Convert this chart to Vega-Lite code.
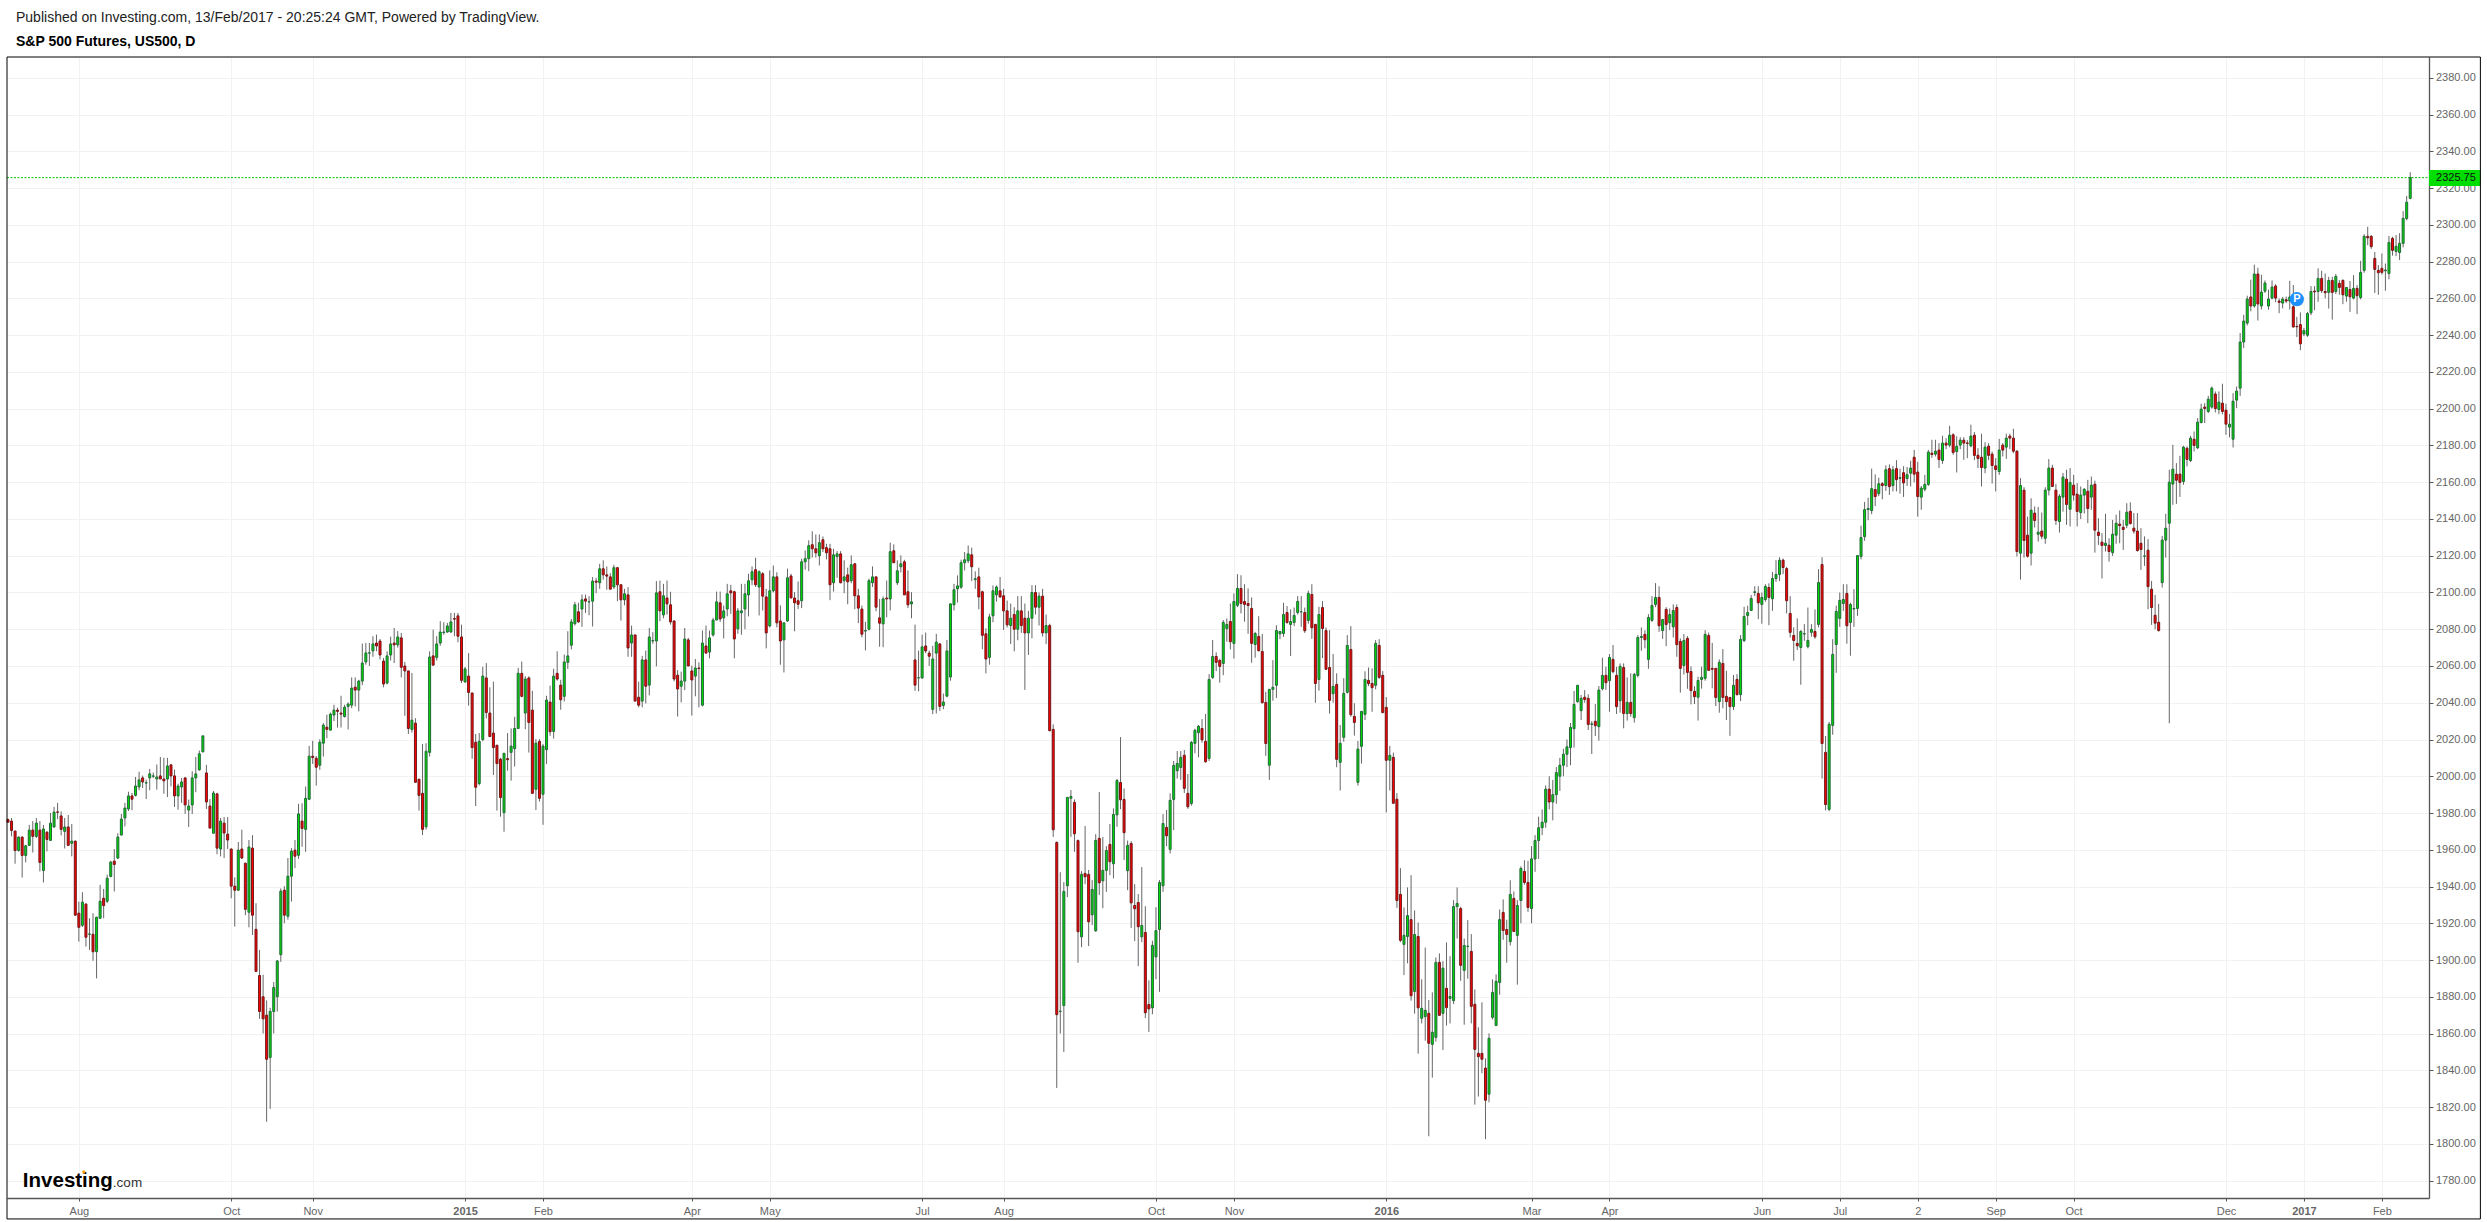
{"$schema":"https://vega.github.io/schema/vega-lite/v6.json","autosize":"none","padding":{"left":7,"top":57,"right":58,"bottom":24},"width":2422,"height":1141,"background":"#ffffff","config":{"view":{"stroke":null},"font":"Liberation Sans"},"title":{"text":"Published on Investing.com, 13/Feb/2017 - 20:25:24 GMT, Powered by TradingView.","subtitle":"S&P 500 Futures, US500, D","anchor":"start","frame":"group","dx":9,"offset":8,"font":"Liberation Sans","fontSize":14,"fontWeight":"normal","color":"#222222","subtitleFont":"Liberation Sans","subtitleFontSize":14,"subtitleFontWeight":"bold","subtitleColor":"#000000","subtitlePadding":10},"datasets":{"candles":[
{"i":0,"o":1976.4,"h":1977,"l":1974.9,"c":1975},{"i":1,"o":1975.6,"h":1977.3,"l":1967.3,"c":1970.5},{"i":2,"o":1970.2,"h":1970.2,"l":1952.4,"c":1959.6},{"i":3,"o":1959.6,"h":1967.3,"l":1959,"c":1966.9},{"i":4,"o":1966.9,"h":1967.3,"l":1944.9,"c":1956.9},{"i":5,"o":1956.9,"h":1962.2,"l":1953.1,"c":1962.2},{"i":6,"o":1962.4,"h":1973.5,"l":1962,"c":1970.7},{"i":7,"o":1970.7,"h":1975.6,"l":1958.5,"c":1967.3},{"i":8,"o":1967.3,"h":1977.3,"l":1966.4,"c":1974.5},{"i":9,"o":1970.7,"h":1975.6,"l":1948.2,"c":1953.1},
{"i":10,"o":1948.7,"h":1973.5,"l":1942.2,"c":1971.3},{"i":11,"o":1969.6,"h":1970,"l":1959.1,"c":1965.6},{"i":12,"o":1965.1,"h":1980,"l":1965,"c":1974.5},{"i":13,"o":1972.4,"h":1983.3,"l":1972,"c":1980.5},{"i":14,"o":1980.6,"h":1985.5,"l":1976.7,"c":1980.4},{"i":15,"o":1978.4,"h":1980.9,"l":1967.8,"c":1971.1},{"i":16,"o":1970,"h":1977.3,"l":1960.7,"c":1972.4},{"i":17,"o":1972.4,"h":1978.9,"l":1962.2,"c":1962.4},{"i":18,"o":1963.5,"h":1974,"l":1956.4,"c":1964.7},{"i":19,"o":1964.7,"h":1965,"l":1924,"c":1924.4},
{"i":20,"o":1925.5,"h":1931.8,"l":1910,"c":1917.8},{"i":21,"o":1918.9,"h":1936.9,"l":1918,"c":1931.5},{"i":22,"o":1930.4,"h":1931,"l":1907.3,"c":1912.4},{"i":23,"o":1914,"h":1922.7,"l":1905.5,"c":1914.2},{"i":24,"o":1914,"h":1925.5,"l":1899.6,"c":1904.5},{"i":25,"o":1904.5,"h":1923.5,"l":1890,"c":1923.3},{"i":26,"o":1922.7,"h":1940.9,"l":1922.5,"c":1932},{"i":27,"o":1933.6,"h":1938.7,"l":1922.7,"c":1929.6},{"i":28,"o":1932,"h":1946.4,"l":1931,"c":1944.5},{"i":29,"o":1945.5,"h":1954,"l":1945,"c":1953.3},
{"i":30,"o":1953.8,"h":1960.4,"l":1937.3,"c":1952},{"i":31,"o":1955.5,"h":1969,"l":1955,"c":1966.9},{"i":32,"o":1968,"h":1979.5,"l":1968,"c":1976.7},{"i":33,"o":1977.3,"h":1985.5,"l":1972.7,"c":1982.7},{"i":34,"o":1982.2,"h":1991.6,"l":1981.1,"c":1989.3},{"i":35,"o":1989.3,"h":1990.9,"l":1981.5,"c":1987.5},{"i":36,"o":1989.6,"h":1999.6,"l":1989,"c":1994.7},{"i":37,"o":1994.2,"h":2002.4,"l":1992.4,"c":1998},{"i":38,"o":1999.1,"h":2000.4,"l":1993.6,"c":1996.9},{"i":39,"o":1996.3,"h":1998.2,"l":1987.6,"c":1996.5},
{"i":40,"o":1999.1,"h":2004,"l":1992.4,"c":2001.3},{"i":41,"o":2000,"h":2002,"l":1999,"c":2000.2},{"i":42,"o":1998.5,"h":2006.4,"l":1992.7,"c":1999.6},{"i":43,"o":2000.2,"h":2010.5,"l":1998.5,"c":1998.5},{"i":44,"o":1998.5,"h":2010,"l":1990.5,"c":1997.5},{"i":45,"o":1998.5,"h":2010,"l":1988.7,"c":2005.6},{"i":46,"o":2006.2,"h":2006.7,"l":1994.5,"c":2000.2},{"i":47,"o":2000.2,"h":2003.6,"l":1983.3,"c":1989.3},{"i":48,"o":1989.3,"h":1996,"l":1981.8,"c":1994.7},{"i":49,"o":1994.2,"h":1999.1,"l":1985.5,"c":1996.9},
{"i":50,"o":1999.1,"h":1999.5,"l":1979.5,"c":1984.4},{"i":51,"o":1981.6,"h":1987.3,"l":1972.4,"c":1983.8},{"i":52,"o":1984.4,"h":2002.7,"l":1979.5,"c":1999.1},{"i":53,"o":1999.1,"h":2010.5,"l":1991.3,"c":2001.3},{"i":54,"o":2003.5,"h":2014,"l":2003,"c":2012.2},{"i":55,"o":2013.3,"h":2022,"l":2013,"c":2022},{"i":56,"o":2001.8,"h":2006.2,"l":1982.2,"c":1986},{"i":57,"o":1983.8,"h":1987.6,"l":1971.8,"c":1971.8},{"i":58,"o":1969,"h":1992,"l":1969,"c":1990.9},{"i":59,"o":1990.4,"h":1991,"l":1957.6,"c":1960.9},
{"i":60,"o":1960.4,"h":1977.3,"l":1956.4,"c":1975.6},{"i":61,"o":1974.5,"h":1977.8,"l":1955.5,"c":1969.1},{"i":62,"o":1968.5,"h":1977.8,"l":1960.4,"c":1965.3},{"i":63,"o":1960.4,"h":1960.7,"l":1933.6,"c":1940.2},{"i":64,"o":1940.2,"h":1945,"l":1918.2,"c":1938},{"i":65,"o":1938,"h":1964.2,"l":1937.5,"c":1959.8},{"i":66,"o":1960.4,"h":1970.9,"l":1955,"c":1955.5},{"i":67,"o":1952.7,"h":1953,"l":1924.4,"c":1927.6},{"i":68,"o":1926,"h":1965.3,"l":1917.8,"c":1961.5},{"i":69,"o":1960.9,"h":1968,"l":1913.6,"c":1924.4},
{"i":70,"o":1916.7,"h":1930.9,"l":1893.8,"c":1893.8},{"i":71,"o":1891.6,"h":1905.5,"l":1868,"c":1872},{"i":72,"o":1880,"h":1892,"l":1860,"c":1868},{"i":73,"o":1870,"h":1878,"l":1812,"c":1846},{"i":74,"o":1847,"h":1874,"l":1819,"c":1872},{"i":75,"o":1872,"h":1888,"l":1860,"c":1885},{"i":76,"o":1880,"h":1900,"l":1872,"c":1899.5},{"i":77,"o":1902.9,"h":1939,"l":1899,"c":1937.5},{"i":78,"o":1938,"h":1940.2,"l":1920,"c":1924.4},{"i":79,"o":1923.8,"h":1955.5,"l":1922,"c":1945.6},
{"i":80,"o":1945.6,"h":1960.9,"l":1931.8,"c":1959.3},{"i":81,"o":1959.8,"h":1965.3,"l":1950,"c":1956.5},{"i":82,"o":1957,"h":1985,"l":1955,"c":1979.5},{"i":83,"o":1975.6,"h":1985.3,"l":1961.6,"c":1971.6},{"i":84,"o":1971.1,"h":1994.4,"l":1958.9,"c":1988},{"i":85,"o":1987.5,"h":2016.5,"l":1987,"c":2010.9},{"i":86,"o":2010.9,"h":2019.3,"l":2006.7,"c":2010.2},{"i":87,"o":2009.8,"h":2011,"l":1994.9,"c":2004.9},{"i":88,"o":2006,"h":2020.2,"l":2003.5,"c":2018.5},{"i":89,"o":2018,"h":2028.9,"l":2010.7,"c":2027.8},
{"i":90,"o":2026.7,"h":2033.5,"l":2020.7,"c":2025.5},{"i":91,"o":2025.1,"h":2034.7,"l":2025,"c":2033.8},{"i":92,"o":2033.3,"h":2038.9,"l":2030,"c":2036},{"i":93,"o":2036,"h":2037.3,"l":2026.5,"c":2035.3},{"i":94,"o":2034.4,"h":2043.8,"l":2026.5,"c":2033.8},{"i":95,"o":2032.5,"h":2038.9,"l":2032,"c":2037.6},{"i":96,"o":2038,"h":2040.2,"l":2025.5,"c":2039.3},{"i":97,"o":2038.7,"h":2053.8,"l":2037,"c":2048},{"i":98,"o":2048.5,"h":2053.8,"l":2038,"c":2046.9},{"i":99,"o":2046.9,"h":2052.5,"l":2035.3,"c":2051.8},
{"i":100,"o":2051.8,"h":2072.2,"l":2049.6,"c":2061.6},{"i":101,"o":2062.2,"h":2072.5,"l":2060.7,"c":2067.1},{"i":102,"o":2067,"h":2072.5,"l":2060,"c":2067.2},{"i":103,"o":2068.2,"h":2076.2,"l":2065,"c":2072},{"i":104,"o":2072.5,"h":2077.1,"l":2068,"c":2070.9},{"i":105,"o":2073.6,"h":2074.7,"l":2063.5,"c":2066},{"i":106,"o":2062.7,"h":2064.4,"l":2048.4,"c":2050.2},{"i":107,"o":2050.7,"h":2068,"l":2050,"c":2065.5},{"i":108,"o":2066,"h":2076,"l":2063,"c":2072},{"i":109,"o":2072.5,"h":2080.7,"l":2061.6,"c":2071.5},
{"i":110,"o":2071.5,"h":2079,"l":2070,"c":2075.8},{"i":111,"o":2075.3,"h":2078,"l":2053.8,"c":2059.3},{"i":112,"o":2060,"h":2062.2,"l":2032.9,"c":2057.3},{"i":113,"o":2057.3,"h":2057.5,"l":2023,"c":2026},{"i":114,"o":2025.5,"h":2056.2,"l":2023.8,"c":2030.5},{"i":115,"o":2028.9,"h":2031.6,"l":1996.7,"c":1996.7},{"i":116,"o":1998.4,"h":1998.4,"l":1981.3,"c":1989.6},{"i":117,"o":1990.7,"h":2017.6,"l":1968,"c":1971.1},{"i":118,"o":1972.5,"h":2018,"l":1971,"c":2013.6},{"i":119,"o":2013,"h":2068,"l":2010.7,"c":2064.9},
{"i":120,"o":2065.5,"h":2079.8,"l":2060,"c":2060.5},{"i":121,"o":2064.7,"h":2076.2,"l":2063,"c":2072},{"i":122,"o":2072.5,"h":2084.4,"l":2071,"c":2078.5},{"i":123,"o":2078.2,"h":2083.8,"l":2077,"c":2078.5},{"i":124,"o":2078.5,"h":2083.5,"l":2078,"c":2081.8},{"i":125,"o":2078.5,"h":2088.9,"l":2078,"c":2084},{"i":126,"o":2085.8,"h":2088.9,"l":2076.2,"c":2085.5},{"i":127,"o":2087.3,"h":2088.9,"l":2072.9,"c":2076.2},{"i":128,"o":2075.8,"h":2082.5,"l":2050.7,"c":2052.2},{"i":129,"o":2051.3,"h":2059.5,"l":2051,"c":2058.4},
{"i":130,"o":2054.5,"h":2067,"l":2038.4,"c":2045.6},{"i":131,"o":2045.3,"h":2045.5,"l":2009.5,"c":2015.6},{"i":132,"o":2018.5,"h":2023,"l":1983.8,"c":1994},{"i":133,"o":1996,"h":2023.5,"l":1995,"c":2019},{"i":134,"o":2020,"h":2059.6,"l":2019,"c":2054.5},{"i":135,"o":2053.5,"h":2061.6,"l":2031.5,"c":2034.7},{"i":136,"o":2034.4,"h":2048.4,"l":2021.6,"c":2021.6},{"i":137,"o":2023.5,"h":2051.5,"l":2000.7,"c":2015.6},{"i":138,"o":2016.9,"h":2017,"l":1981.3,"c":2006.9},{"i":139,"o":2009.3,"h":2010,"l":1978,"c":1988.4},
{"i":140,"o":1980.2,"h":2012.5,"l":1969.8,"c":2012.5},{"i":141,"o":2009.6,"h":2023.5,"l":2003,"c":2009},{"i":142,"o":2013,"h":2026,"l":1997.6,"c":2016.4},{"i":143,"o":2015,"h":2032.4,"l":2005.3,"c":2026},{"i":144,"o":2026,"h":2059,"l":2026,"c":2056},{"i":145,"o":2056,"h":2062.4,"l":2043,"c":2043.5},{"i":146,"o":2034.4,"h":2054.4,"l":2025.6,"c":2052.9},{"i":147,"o":2053.5,"h":2054.4,"l":2012.9,"c":2029.3},{"i":148,"o":2036,"h":2046.5,"l":1990.7,"c":1990.7},{"i":149,"o":1992.9,"h":2020.2,"l":1981.6,"c":2018},
{"i":150,"o":2019,"h":2020.2,"l":1986.2,"c":1988},{"i":151,"o":1990.2,"h":2017.5,"l":1973.6,"c":2016.4},{"i":152,"o":2014.5,"h":2043.8,"l":2006.7,"c":2041.5},{"i":153,"o":2040.4,"h":2049.3,"l":2022,"c":2024.2},{"i":154,"o":2024.4,"h":2058.5,"l":2020.5,"c":2054.5},{"i":155,"o":2056,"h":2068,"l":2052,"c":2052.9},{"i":156,"o":2049.6,"h":2052.5,"l":2036.2,"c":2041.6},{"i":157,"o":2043.5,"h":2066.2,"l":2040.7,"c":2062.2},{"i":158,"o":2062,"h":2078.9,"l":2058.4,"c":2065.5},{"i":159,"o":2071.3,"h":2085.6,"l":2069,"c":2084},
{"i":160,"o":2083,"h":2094.9,"l":2082,"c":2093.3},{"i":161,"o":2089.5,"h":2094.4,"l":2083.5,"c":2084},{"i":162,"o":2091,"h":2098.9,"l":2081.3,"c":2096},{"i":163,"o":2096.5,"h":2098.9,"l":2088.9,"c":2095.3},{"i":164,"o":2094.9,"h":2098,"l":2087.6,"c":2095},{"i":165,"o":2095.3,"h":2108.4,"l":2081.5,"c":2106.2},{"i":166,"o":2106.2,"h":2108,"l":2099.6,"c":2105.6},{"i":167,"o":2105.3,"h":2115.6,"l":2102,"c":2112.9},{"i":168,"o":2112.9,"h":2117.5,"l":2107,"c":2109.6},{"i":169,"o":2109.6,"h":2114.2,"l":2101.5,"c":2108.9},
{"i":170,"o":2108.5,"h":2110.5,"l":2101.8,"c":2101.8},{"i":171,"o":2103,"h":2115.1,"l":2102,"c":2113.5},{"i":172,"o":2113.5,"h":2113.8,"l":2095.3,"c":2104.2},{"i":173,"o":2104.2,"h":2104.5,"l":2084.7,"c":2096},{"i":174,"o":2096,"h":2102,"l":2093,"c":2099.3},{"i":175,"o":2098.7,"h":2102.9,"l":2065,"c":2069.8},{"i":176,"o":2072.5,"h":2082,"l":2065,"c":2076.9},{"i":177,"o":2076.9,"h":2077,"l":2041,"c":2040.9},{"i":178,"o":2043,"h":2051.5,"l":2037.5,"c":2038.7},{"i":179,"o":2040.9,"h":2065.5,"l":2037.5,"c":2063.3},
{"i":180,"o":2063.3,"h":2068.4,"l":2039.6,"c":2049},{"i":181,"o":2049.6,"h":2080.7,"l":2044,"c":2075.8},{"i":182,"o":2073.6,"h":2078.4,"l":2072,"c":2073.8},{"i":183,"o":2073.6,"h":2106.2,"l":2059.8,"c":2099.8},{"i":184,"o":2100.4,"h":2106.5,"l":2084.4,"c":2090},{"i":185,"o":2087.8,"h":2104.7,"l":2086,"c":2098.2},{"i":186,"o":2097,"h":2106.5,"l":2088,"c":2093.8},{"i":187,"o":2093.3,"h":2100.4,"l":2082.5,"c":2084},{"i":188,"o":2084.5,"h":2084.8,"l":2051.6,"c":2052.9},{"i":189,"o":2055,"h":2057.8,"l":2032.5,"c":2047.5},
{"i":190,"o":2049,"h":2056.9,"l":2040.2,"c":2051.8},{"i":191,"o":2051.8,"h":2080.7,"l":2046.9,"c":2074.7},{"i":192,"o":2074.2,"h":2075.3,"l":2060,"c":2060},{"i":193,"o":2057.3,"h":2060.2,"l":2033,"c":2052.4},{"i":194,"o":2054.5,"h":2063.8,"l":2043.5,"c":2058.9},{"i":195,"o":2058.9,"h":2062,"l":2037.5,"c":2058.6},{"i":196,"o":2038.7,"h":2079.3,"l":2038,"c":2072.5},{"i":197,"o":2070.9,"h":2082,"l":2067,"c":2067},{"i":198,"o":2067.6,"h":2079.3,"l":2064.2,"c":2075.3},{"i":199,"o":2076.9,"h":2086.2,"l":2076,"c":2085},
{"i":200,"o":2085,"h":2100.5,"l":2085,"c":2094.9},{"i":201,"o":2094.4,"h":2100.5,"l":2084,"c":2085.6},{"i":202,"o":2086.2,"h":2092.9,"l":2075,"c":2090},{"i":203,"o":2091,"h":2104.7,"l":2087,"c":2099.3},{"i":204,"o":2100.9,"h":2104.2,"l":2088.4,"c":2099.8},{"i":205,"o":2100.4,"h":2101,"l":2064.2,"c":2074.7},{"i":206,"o":2080.2,"h":2091.6,"l":2077.5,"c":2090},{"i":207,"o":2089,"h":2104.7,"l":2077,"c":2090},{"i":208,"o":2091,"h":2104.7,"l":2080,"c":2099.3},{"i":209,"o":2098.7,"h":2110.2,"l":2087,"c":2106.4},
{"i":210,"o":2106.9,"h":2114.2,"l":2104,"c":2111.3},{"i":211,"o":2112.4,"h":2118.9,"l":2103,"c":2104.2},{"i":212,"o":2103,"h":2112,"l":2087.5,"c":2111.3},{"i":213,"o":2110.2,"h":2111.1,"l":2090.2,"c":2098},{"i":214,"o":2097.6,"h":2102,"l":2069.6,"c":2078},{"i":215,"o":2081.8,"h":2112,"l":2081,"c":2100.9},{"i":216,"o":2100.9,"h":2114.7,"l":2100,"c":2108.5},{"i":217,"o":2108.5,"h":2111,"l":2081,"c":2083.5},{"i":218,"o":2084.5,"h":2093,"l":2060.7,"c":2073.6},{"i":219,"o":2074.2,"h":2083.5,"l":2056.5,"c":2083.5},
{"i":220,"o":2084.5,"h":2113,"l":2084,"c":2108},{"i":221,"o":2109,"h":2110.2,"l":2097,"c":2097},{"i":222,"o":2097,"h":2100.2,"l":2078.9,"c":2094.4},{"i":223,"o":2095.5,"h":2106,"l":2091,"c":2093.6},{"i":224,"o":2095.5,"h":2118.4,"l":2091.5,"c":2116.7},{"i":225,"o":2116.7,"h":2122.9,"l":2112.4,"c":2118.4},{"i":226,"o":2118.4,"h":2128.4,"l":2111.6,"c":2125.5},{"i":227,"o":2126,"h":2133.3,"l":2119,"c":2123.8},{"i":228,"o":2123.8,"h":2131.6,"l":2119,"c":2121.6},{"i":229,"o":2120,"h":2131.6,"l":2114.7,"c":2127.1},
{"i":230,"o":2128.7,"h":2130.5,"l":2122,"c":2123.8},{"i":231,"o":2124.4,"h":2126.5,"l":2118,"c":2121.6},{"i":232,"o":2123.8,"h":2126.5,"l":2095.8,"c":2104.2},{"i":233,"o":2105.3,"h":2123.8,"l":2100.5,"c":2120.5},{"i":234,"o":2119.5,"h":2122.5,"l":2108,"c":2121},{"i":235,"o":2121,"h":2122.5,"l":2105,"c":2105.3},{"i":236,"o":2106.4,"h":2117.5,"l":2099.6,"c":2108.5},{"i":237,"o":2109.6,"h":2113.5,"l":2093.6,"c":2105.8},{"i":238,"o":2106.4,"h":2120.2,"l":2105,"c":2115.1},{"i":239,"o":2115.6,"h":2116,"l":2090.9,"c":2098.2},
{"i":240,"o":2098.2,"h":2102,"l":2083.3,"c":2091.5},{"i":241,"o":2091,"h":2092.9,"l":2075.6,"c":2077.3},{"i":242,"o":2079,"h":2084,"l":2068.5,"c":2079.3},{"i":243,"o":2080,"h":2107.5,"l":2079.3,"c":2106.4},{"i":244,"o":2105.3,"h":2114.2,"l":2103,"c":2108.5},{"i":245,"o":2108.5,"h":2108.6,"l":2089.8,"c":2092},{"i":246,"o":2086.2,"h":2096.5,"l":2070.5,"c":2083.3},{"i":247,"o":2082.9,"h":2097.8,"l":2070.2,"c":2096.5},{"i":248,"o":2097,"h":2106.5,"l":2086.5,"c":2096.5},{"i":249,"o":2096.5,"h":2127.1,"l":2090.2,"c":2122.2},
{"i":250,"o":2122.7,"h":2126.2,"l":2116,"c":2116.2},{"i":251,"o":2105.3,"h":2117.5,"l":2104,"c":2111.8},{"i":252,"o":2114,"h":2120.2,"l":2110.9,"c":2115.6},{"i":253,"o":2116.7,"h":2117.8,"l":2098.7,"c":2098.7},{"i":254,"o":2100.4,"h":2112,"l":2091.5,"c":2093.3},{"i":255,"o":2093.8,"h":2100.2,"l":2086,"c":2094.9},{"i":256,"o":2063.3,"h":2082.5,"l":2046.5,"c":2049.6},{"i":257,"o":2053.5,"h":2068.4,"l":2046.2,"c":2053.6},{"i":258,"o":2053.5,"h":2077,"l":2053,"c":2070.4},{"i":259,"o":2070.9,"h":2078.2,"l":2067,"c":2068.2},
{"i":260,"o":2067,"h":2068.4,"l":2060,"c":2065.3},{"i":261,"o":2036.4,"h":2071,"l":2033.8,"c":2063.8},{"i":262,"o":2067,"h":2077.5,"l":2034.2,"c":2073},{"i":263,"o":2072,"h":2072.5,"l":2035.6,"c":2038},{"i":264,"o":2038.5,"h":2045,"l":2036.5,"c":2040.4},{"i":265,"o":2043.6,"h":2074.2,"l":2043,"c":2068.2},{"i":266,"o":2054,"h":2094.2,"l":2052,"c":2093.8},{"i":267,"o":2093.3,"h":2104.7,"l":2090.2,"c":2101.5},{"i":268,"o":2102,"h":2109.3,"l":2094.5,"c":2103.6},{"i":269,"o":2102.9,"h":2117.8,"l":2102,"c":2116.2},
{"i":270,"o":2116.2,"h":2122,"l":2112,"c":2117.8},{"i":271,"o":2117.3,"h":2125.6,"l":2116,"c":2121},{"i":272,"o":2120.5,"h":2124.4,"l":2106.2,"c":2114},{"i":273,"o":2107,"h":2111.5,"l":2102,"c":2107.5},{"i":274,"o":2108.5,"h":2113.5,"l":2090.9,"c":2097.6},{"i":275,"o":2100.4,"h":2101,"l":2069.1,"c":2076.7},{"i":276,"o":2077.5,"h":2080.5,"l":2056,"c":2063.8},{"i":277,"o":2064.7,"h":2088.4,"l":2060.7,"c":2086.7},{"i":278,"o":2087.3,"h":2103.8,"l":2083.8,"c":2100.9},{"i":279,"o":2098.7,"h":2103.8,"l":2095,"c":2103},
{"i":280,"o":2100.9,"h":2108.4,"l":2097,"c":2097.6},{"i":281,"o":2098.2,"h":2102,"l":2079.6,"c":2090},{"i":282,"o":2090,"h":2095.6,"l":2081,"c":2082.4},{"i":283,"o":2082,"h":2094,"l":2072,"c":2086},{"i":284,"o":2088,"h":2092,"l":2068,"c":2080},{"i":285,"o":2080,"h":2098,"l":2074,"c":2090},{"i":286,"o":2090,"h":2098,"l":2078,"c":2082},{"i":287,"o":2086,"h":2094,"l":2047,"c":2078},{"i":288,"o":2078,"h":2090,"l":2066,"c":2086},{"i":289,"o":2086,"h":2104,"l":2075,"c":2100},
{"i":290,"o":2100,"h":2104,"l":2088,"c":2092},{"i":291,"o":2092,"h":2100,"l":2082,"c":2098},{"i":292,"o":2098,"h":2102,"l":2076,"c":2078},{"i":293,"o":2078,"h":2088,"l":2072,"c":2082},{"i":294,"o":2082,"h":2083,"l":2024.5,"c":2024.8},{"i":295,"o":2025.5,"h":2028.2,"l":1967,"c":1970.9},{"i":296,"o":1964,"h":1964.5,"l":1830.4,"c":1870.3},{"i":297,"o":1872,"h":1947.8,"l":1860,"c":1872.2},{"i":298,"o":1875.2,"h":1942.4,"l":1850,"c":1937.3},{"i":299,"o":1940.4,"h":1988.5,"l":1934.2,"c":1988.5},
{"i":300,"o":1988,"h":1992.5,"l":1967,"c":1989},{"i":301,"o":1985.8,"h":1987.4,"l":1958.9,"c":1968.7},{"i":302,"o":1965,"h":1965.6,"l":1898.5,"c":1915.4},{"i":303,"o":1912.6,"h":1948.4,"l":1907,"c":1946.6},{"i":304,"o":1947.1,"h":1972.9,"l":1941.3,"c":1945.3},{"i":305,"o":1946.6,"h":1949,"l":1907.6,"c":1920.8},{"i":306,"o":1924.6,"h":1943.5,"l":1919,"c":1938.4},{"i":307,"o":1915.9,"h":1968.5,"l":1915.3,"c":1965.1},{"i":308,"o":1966.2,"h":1991.4,"l":1935.3,"c":1942},{"i":309,"o":1943.1,"h":1966.9,"l":1928.2,"c":1948.8},
{"i":310,"o":1948.8,"h":1962,"l":1937.1,"c":1959.6},{"i":311,"o":1962.9,"h":1974,"l":1946.2,"c":1953.5},{"i":312,"o":1952.4,"h":1982.5,"l":1944.4,"c":1979.2},{"i":313,"o":1979,"h":1998.5,"l":1972.5,"c":1997.7},{"i":314,"o":1996.6,"h":2021.3,"l":1982.1,"c":1987.2},{"i":315,"o":1987.4,"h":1993.4,"l":1954.4,"c":1969.3},{"i":316,"o":1948.6,"h":1965,"l":1938,"c":1962.4},{"i":317,"o":1963.4,"h":1964.7,"l":1917.5,"c":1931.1},{"i":318,"o":1929.7,"h":1941.3,"l":1910.3,"c":1927.9},{"i":319,"o":1931.3,"h":1935.9,"l":1896.7,"c":1918.1},
{"i":320,"o":1912.6,"h":1950.6,"l":1909.7,"c":1918.8},{"i":321,"o":1915,"h":1929.3,"l":1868.4,"c":1871.3},{"i":322,"o":1875.8,"h":1889,"l":1860.9,"c":1873.4},{"i":323,"o":1874,"h":1910.5,"l":1870.5,"c":1908},{"i":324,"o":1901.7,"h":1928.8,"l":1889.6,"c":1916},{"i":325,"o":1916.6,"h":1943.5,"l":1882.7,"c":1942.2},{"i":326,"o":1940.4,"h":1979.4,"l":1937.1,"c":1974.3},{"i":327,"o":1972.2,"h":1981.6,"l":1962,"c":1967.6},{"i":328,"o":1960.2,"h":1990.7,"l":1958,"c":1986.9},{"i":329,"o":1987.4,"h":2008.3,"l":1970.7,"c":2005.9},
{"i":330,"o":2003,"h":2013.7,"l":1998.7,"c":2007},{"i":331,"o":2004.8,"h":2013.7,"l":1998,"c":2010.3},{"i":332,"o":2011.4,"h":2014.3,"l":1990.9,"c":1993.4},{"i":333,"o":1990.7,"h":2001.2,"l":1982.3,"c":1983.4},{"i":334,"o":1985.2,"h":2019.2,"l":1984,"c":2018.4},{"i":335,"o":2017.9,"h":2025.9,"l":2012.5,"c":2025},{"i":336,"o":2023.7,"h":2027.9,"l":2010.3,"c":2027.2},{"i":337,"o":2026,"h":2031.1,"l":2018.3,"c":2019.8},{"i":338,"o":2019,"h":2033.9,"l":2007.4,"c":2007.9},{"i":339,"o":2009.7,"h":2055.6,"l":2008.3,"c":2052.7},
{"i":340,"o":2053.8,"h":2074.1,"l":2053,"c":2065.2},{"i":341,"o":2065.2,"h":2067.4,"l":2057.2,"c":2062},{"i":342,"o":2063,"h":2063.9,"l":2050.9,"c":2059.8},{"i":343,"o":2061.4,"h":2085,"l":2055,"c":2083.7},{"i":344,"o":2080.3,"h":2085.9,"l":2073.2,"c":2082.6},{"i":345,"o":2084.2,"h":2094,"l":2069,"c":2073.2},{"i":346,"o":2072.3,"h":2099.5,"l":2064,"c":2095.1},{"i":347,"o":2093,"h":2110,"l":2092,"c":2102.2},{"i":348,"o":2102.2,"h":2109.4,"l":2088.6,"c":2094},{"i":349,"o":2095.1,"h":2104.5,"l":2084.1,"c":2093.5},
{"i":350,"o":2094,"h":2102.2,"l":2077.5,"c":2092.9},{"i":351,"o":2091.3,"h":2097.3,"l":2061.8,"c":2072.3},{"i":352,"o":2071.7,"h":2078.6,"l":2064.5,"c":2077.7},{"i":353,"o":2076.1,"h":2087.1,"l":2068,"c":2068.3},{"i":354,"o":2067.9,"h":2077.4,"l":2039.7,"c":2040},{"i":355,"o":2040.2,"h":2046,"l":2011.1,"c":2017.8},{"i":356,"o":2006,"h":2047.3,"l":1998,"c":2047.3},{"i":357,"o":2047.3,"h":2063.2,"l":2041.1,"c":2048.4},{"i":358,"o":2049.5,"h":2082.2,"l":2042.6,"c":2079.3},{"i":359,"o":2077.5,"h":2079,"l":2074.6,"c":2078.8},
{"i":360,"o":2077.7,"h":2094.4,"l":2075.9,"c":2088},{"i":361,"o":2089.1,"h":2092.6,"l":2083,"c":2083.7},{"i":362,"o":2082.6,"h":2090.8,"l":2065.4,"c":2084.2},{"i":363,"o":2083.7,"h":2091.8,"l":2081.7,"c":2087.5},{"i":364,"o":2089.1,"h":2098,"l":2088,"c":2095.1},{"i":365,"o":2089.5,"h":2098,"l":2081.3,"c":2089.5},{"i":366,"o":2089.1,"h":2091.8,"l":2078,"c":2079.2},{"i":367,"o":2084.8,"h":2101,"l":2083,"c":2099.5},{"i":368,"o":2098.9,"h":2104.5,"l":2074.8,"c":2080.8},{"i":369,"o":2082.6,"h":2083,"l":2040,"c":2050.5},
{"i":370,"o":2052.7,"h":2092.2,"l":2046.6,"c":2088},{"i":371,"o":2091.8,"h":2095.3,"l":2064.3,"c":2080.4},{"i":372,"o":2079.3,"h":2081,"l":2058,"c":2058.2},{"i":373,"o":2059.2,"h":2079.5,"l":2034.1,"c":2041.3},{"i":374,"o":2044.9,"h":2066.5,"l":2040,"c":2048.9},{"i":375,"o":2050,"h":2056,"l":2004.9,"c":2009.2},{"i":376,"o":2007.6,"h":2027.9,"l":1992.2,"c":2017.9},{"i":377,"o":2021.2,"h":2053.4,"l":2018.8,"c":2045.1},{"i":378,"o":2045.7,"h":2076.8,"l":2045,"c":2071.2},{"i":379,"o":2069,"h":2081.7,"l":2032.4,"c":2033.5},
{"i":380,"o":2032.6,"h":2039.7,"l":2022.1,"c":2029.3},{"i":381,"o":1996.7,"h":2019.2,"l":1994.9,"c":2014.8},{"i":382,"o":2016.3,"h":2035.3,"l":2006.9,"c":2035.3},{"i":383,"o":2033.7,"h":2057.1,"l":2030.6,"c":2052.7},{"i":384,"o":2052.2,"h":2059.2,"l":2049,"c":2050.4},{"i":385,"o":2050.5,"h":2058.7,"l":2035.1,"c":2048.2},{"i":386,"o":2049.5,"h":2074.1,"l":2047.3,"c":2072.3},{"i":387,"o":2071.2,"h":2074.6,"l":2053,"c":2053.8},{"i":388,"o":2054.9,"h":2057.2,"l":2034.6,"c":2034.6},{"i":389,"o":2037.5,"h":2043.1,"l":1980.3,"c":2008.7},
{"i":390,"o":2008.7,"h":2016.5,"l":1992.2,"c":2011.4},{"i":391,"o":2010.3,"h":2012.9,"l":1985,"c":1985.3},{"i":392,"o":1987.5,"h":1990.8,"l":1928.4,"c":1932.4},{"i":393,"o":1935.7,"h":1950,"l":1909.7,"c":1910.7},{"i":394,"o":1908.5,"h":1928.6,"l":1891.8,"c":1913.4},{"i":395,"o":1912.8,"h":1939.5,"l":1898.2,"c":1924.2},{"i":396,"o":1922,"h":1946.2,"l":1877.9,"c":1880.6},{"i":397,"o":1882.9,"h":1927,"l":1870.8,"c":1913.9},{"i":398,"o":1912.8,"h":1920.4,"l":1849,"c":1874},{"i":399,"o":1868.3,"h":1889.5,"l":1865.5,"c":1873.7},
{"i":400,"o":1869.2,"h":1906.8,"l":1856.1,"c":1872.6},{"i":401,"o":1871,"h":1878.2,"l":1804.1,"c":1854.7},{"i":402,"o":1854.1,"h":1882.4,"l":1836,"c":1860.7},{"i":403,"o":1857.9,"h":1901.4,"l":1855.6,"c":1898.7},{"i":404,"o":1898.7,"h":1903.6,"l":1869.9,"c":1869.9},{"i":405,"o":1871,"h":1899.4,"l":1851,"c":1895.6},{"i":406,"o":1884.6,"h":1909.6,"l":1864.3,"c":1874.1},{"i":407,"o":1879.1,"h":1902.1,"l":1865.5,"c":1880.2},{"i":408,"o":1877.9,"h":1932.6,"l":1876,"c":1929.1},{"i":409,"o":1929.1,"h":1939.5,"l":1911.7,"c":1930.8},
{"i":410,"o":1928,"h":1929,"l":1888.7,"c":1897.1},{"i":411,"o":1894.4,"h":1911.7,"l":1864.8,"c":1907.9},{"i":412,"o":1907.4,"h":1921.7,"l":1889.8,"c":1907.5},{"i":413,"o":1904.7,"h":1914.1,"l":1865.5,"c":1874.8},{"i":414,"o":1875.9,"h":1884,"l":1821.3,"c":1851.4},{"i":415,"o":1849.2,"h":1863.4,"l":1825.7,"c":1847.4},{"i":416,"o":1849.2,"h":1877,"l":1838.4,"c":1846},{"i":417,"o":1841.2,"h":1846.5,"l":1802.5,"c":1823.7},{"i":418,"o":1827,"h":1860.1,"l":1822.6,"c":1857.4},{"i":419,"o":1868.8,"h":1889.5,"l":1867.7,"c":1882.4},
{"i":420,"o":1864.4,"h":1892.2,"l":1864,"c":1888.4},{"i":421,"o":1887.8,"h":1927.5,"l":1881.1,"c":1922},{"i":422,"o":1925.9,"h":1933,"l":1911,"c":1916.1},{"i":423,"o":1916.6,"h":1921.9,"l":1898.5,"c":1913.9},{"i":424,"o":1910,"h":1943.4,"l":1907.9,"c":1935.7},{"i":425,"o":1933.5,"h":1937.3,"l":1915.5,"c":1915.5},{"i":426,"o":1913.4,"h":1932.6,"l":1886.6,"c":1929.7},{"i":427,"o":1932.4,"h":1951,"l":1920,"c":1949.8},{"i":428,"o":1948.2,"h":1954.3,"l":1941,"c":1942.2},{"i":429,"o":1942.2,"h":1954,"l":1926.2,"c":1928.6},
{"i":430,"o":1928,"h":1962,"l":1920,"c":1955},{"i":431,"o":1955,"h":1968,"l":1948,"c":1965},{"i":432,"o":1965,"h":1978,"l":1955,"c":1972},{"i":433,"o":1972,"h":1982,"l":1968,"c":1975},{"i":434,"o":1975,"h":1995,"l":1972,"c":1993},{"i":435,"o":1993,"h":2000,"l":1982,"c":1986},{"i":436,"o":1986,"h":1998,"l":1976,"c":1990},{"i":437,"o":1990,"h":2005,"l":1985,"c":2002},{"i":438,"o":2000,"h":2010,"l":1992,"c":2006},{"i":439,"o":2006,"h":2015,"l":2000,"c":2012},
{"i":440,"o":2012,"h":2020,"l":2005,"c":2016},{"i":441,"o":2015.6,"h":2029,"l":2006,"c":2026.6},{"i":442,"o":2025.9,"h":2046.4,"l":2015.6,"c":2039.1},{"i":443,"o":2040.6,"h":2049.5,"l":2040,"c":2049.5},{"i":444,"o":2035.7,"h":2044.2,"l":2030.6,"c":2042.4},{"i":445,"o":2043,"h":2046.9,"l":2040,"c":2041.8},{"i":446,"o":2042.4,"h":2044.6,"l":2025.2,"c":2028.2},{"i":447,"o":2028.2,"h":2030,"l":2012.1,"c":2028.5},{"i":448,"o":2029.9,"h":2039.3,"l":2021.9,"c":2027.5},{"i":449,"o":2027,"h":2049.1,"l":2019.4,"c":2046.9},
{"i":450,"o":2047.6,"h":2064.5,"l":2046.7,"c":2054.9},{"i":451,"o":2054.9,"h":2059.6,"l":2047,"c":2050.9},{"i":452,"o":2052,"h":2066.5,"l":2035.1,"c":2064.7},{"i":453,"o":2063.6,"h":2071.4,"l":2056,"c":2056.9},{"i":454,"o":2054.9,"h":2059.6,"l":2033.9,"c":2037.9},{"i":455,"o":2041.1,"h":2061.4,"l":2034.6,"c":2059.8},{"i":456,"o":2059.2,"h":2061.4,"l":2026.1,"c":2034.1},{"i":457,"o":2034.1,"h":2053.8,"l":2030.3,"c":2040.2},{"i":458,"o":2040.2,"h":2056,"l":2032.4,"c":2034.1},{"i":459,"o":2031.9,"h":2056.3,"l":2029.2,"c":2055.4},
{"i":460,"o":2054.9,"h":2076.8,"l":2053.8,"c":2075.5},{"i":461,"o":2075.5,"h":2081,"l":2068.3,"c":2076.1},{"i":462,"o":2077.2,"h":2079.5,"l":2069.6,"c":2074.3},{"i":463,"o":2063.6,"h":2088.2,"l":2058.5,"c":2086.4},{"i":464,"o":2084.8,"h":2098,"l":2084,"c":2092.9},{"i":465,"o":2093.5,"h":2105.1,"l":2092,"c":2097.3},{"i":466,"o":2097.3,"h":2103.4,"l":2078.6,"c":2081.9},{"i":467,"o":2079.3,"h":2085.4,"l":2074.8,"c":2085.3},{"i":468,"o":2090.8,"h":2092,"l":2070.8,"c":2082.6},{"i":469,"o":2083.5,"h":2091.3,"l":2079.5,"c":2088},
{"i":470,"o":2081.3,"h":2093.5,"l":2075.5,"c":2090.2},{"i":471,"o":2091.8,"h":2093.5,"l":2065,"c":2071.6},{"i":472,"o":2073.4,"h":2075,"l":2045.5,"c":2058.7},{"i":473,"o":2060.3,"h":2077.4,"l":2055.4,"c":2073.9},{"i":474,"o":2075,"h":2076.3,"l":2047.6,"c":2056.5},{"i":475,"o":2057,"h":2059.8,"l":2039.1,"c":2046.6},{"i":476,"o":2046.2,"h":2049,"l":2039.3,"c":2043.3},{"i":477,"o":2043,"h":2054.2,"l":2030.3,"c":2052.1},{"i":478,"o":2052.7,"h":2059.6,"l":2047.7,"c":2053.8},{"i":479,"o":2053.3,"h":2079.5,"l":2052,"c":2077.2},
{"i":480,"o":2076.6,"h":2078.2,"l":2057.6,"c":2057.6},{"i":481,"o":2058.7,"h":2072.6,"l":2047.8,"c":2058.2},{"i":482,"o":2058.7,"h":2059,"l":2038.2,"c":2042.9},{"i":483,"o":2040.6,"h":2063.6,"l":2034.6,"c":2062},{"i":484,"o":2061.4,"h":2069.2,"l":2037,"c":2042.9},{"i":485,"o":2043.5,"h":2057.4,"l":2030.6,"c":2040.6},{"i":486,"o":2042.9,"h":2043,"l":2022,"c":2037.9},{"i":487,"o":2037.9,"h":2055.1,"l":2036,"c":2049.5},{"i":488,"o":2052.7,"h":2055.6,"l":2044,"c":2044.4},{"i":489,"o":2044.4,"h":2076.8,"l":2040.9,"c":2074.5},
{"i":490,"o":2073.9,"h":2092.2,"l":2073,"c":2086.9},{"i":491,"o":2087.5,"h":2092.8,"l":2082.2,"c":2089.1},{"i":492,"o":2090.2,"h":2098.6,"l":2090,"c":2096.7},{"i":493,"o":2100,"h":2103.4,"l":2098,"c":2100.4},{"i":494,"o":2099.5,"h":2103.4,"l":2085.5,"c":2094.4},{"i":495,"o":2093.5,"h":2100,"l":2083,"c":2097.3},{"i":496,"o":2096.2,"h":2104.5,"l":2095,"c":2103.3},{"i":497,"o":2102.7,"h":2105,"l":2082.2,"c":2097.3},{"i":498,"o":2096.6,"h":2111.2,"l":2090,"c":2107.6},{"i":499,"o":2107.6,"h":2117.6,"l":2105.8,"c":2109.8},
{"i":500,"o":2109.8,"h":2119.2,"l":2106.2,"c":2117.6},{"i":501,"o":2117.6,"h":2118.5,"l":2110,"c":2113.6},{"i":502,"o":2113,"h":2113.9,"l":2088.6,"c":2095.5},{"i":503,"o":2088.6,"h":2098,"l":2075.5,"c":2078.3},{"i":504,"o":2076.6,"h":2081,"l":2062.9,"c":2073.9},{"i":505,"o":2072.3,"h":2085.9,"l":2068.7,"c":2071},{"i":506,"o":2070.1,"h":2079.5,"l":2049.8,"c":2078.8},{"i":507,"o":2077.4,"h":2082.8,"l":2073.7,"c":2077.6},{"i":508,"o":2070.5,"h":2091.8,"l":2069.6,"c":2073.9},{"i":509,"o":2078.3,"h":2082.8,"l":2076,"c":2079.9},
{"i":510,"o":2078.8,"h":2090.8,"l":2074.8,"c":2075.9},{"i":511,"o":2082.6,"h":2112.7,"l":2081,"c":2105.4},{"i":512,"o":2115.2,"h":2119.2,"l":1998.7,"c":2017.8},{"i":513,"o":2013,"h":2021.9,"l":1981.4,"c":1984.6},{"i":514,"o":1982,"h":2029.5,"l":1981,"c":2028.3},{"i":515,"o":2027.7,"h":2074.6,"l":2022.6,"c":2066.3},{"i":516,"o":2071.7,"h":2092.8,"l":2056.3,"c":2089.7},{"i":517,"o":2085.9,"h":2100,"l":2081.3,"c":2095.7},{"i":518,"o":2094,"h":2104.5,"l":2090,"c":2096.2},{"i":519,"o":2099.5,"h":2104.5,"l":2072.1,"c":2081.9},
{"i":520,"o":2083.7,"h":2094.4,"l":2065.6,"c":2093.5},{"i":521,"o":2091,"h":2101.8,"l":2081.3,"c":2091.3},{"i":522,"o":2091.3,"h":2120.1,"l":2087.3,"c":2120.1},{"i":523,"o":2119.6,"h":2136.4,"l":2118,"c":2129.9},{"i":524,"o":2130.4,"h":2149.3,"l":2128.1,"c":2145.1},{"i":525,"o":2145.1,"h":2151.6,"l":2139.3,"c":2145.7},{"i":526,"o":2144.6,"h":2167.4,"l":2142.6,"c":2156.5},{"i":527,"o":2156,"h":2164.3,"l":2147,"c":2152.2},{"i":528,"o":2153.8,"h":2162.5,"l":2152.4,"c":2159.2},{"i":529,"o":2159.2,"h":2160.1,"l":2150.7,"c":2158.2},
{"i":530,"o":2158.2,"h":2169.2,"l":2155.3,"c":2166.8},{"i":531,"o":2167.4,"h":2169.7,"l":2153.1,"c":2157.6},{"i":532,"o":2158.2,"h":2168.8,"l":2155,"c":2166.8},{"i":533,"o":2167.4,"h":2172,"l":2155,"c":2161.4},{"i":534,"o":2162.1,"h":2167.4,"l":2153.8,"c":2162.5},{"i":535,"o":2165.2,"h":2168.7,"l":2152,"c":2159.6},{"i":536,"o":2162,"h":2168.3,"l":2158,"c":2164.1},{"i":537,"o":2164.9,"h":2171.7,"l":2157.7,"c":2167.7},{"i":538,"o":2173.6,"h":2177.6,"l":2159.9,"c":2164.4},{"i":539,"o":2165.5,"h":2171.1,"l":2141.3,"c":2152.2},
{"i":540,"o":2151.9,"h":2158,"l":2145,"c":2156.8},{"i":541,"o":2156.2,"h":2164,"l":2155,"c":2158.8},{"i":542,"o":2158.8,"h":2177.6,"l":2158,"c":2176.4},{"i":543,"o":2175.8,"h":2183.1,"l":2173.3,"c":2175.1},{"i":544,"o":2175.3,"h":2183.1,"l":2174,"c":2176.9},{"i":545,"o":2177.5,"h":2181.3,"l":2167.8,"c":2172.4},{"i":546,"o":2171.8,"h":2185.3,"l":2170,"c":2181.3},{"i":547,"o":2181.3,"h":2184,"l":2178,"c":2180.2},{"i":548,"o":2180.2,"h":2190.7,"l":2179,"c":2185.6},{"i":549,"o":2185.8,"h":2186.7,"l":2174.9,"c":2176.2},
{"i":550,"o":2176.7,"h":2185,"l":2165.3,"c":2179.6},{"i":551,"o":2180.2,"h":2184.5,"l":2178,"c":2182.9},{"i":552,"o":2182.9,"h":2184.5,"l":2172.2,"c":2181.3},{"i":553,"o":2181.4,"h":2183,"l":2173.1,"c":2181.1},{"i":554,"o":2179.8,"h":2191.3,"l":2179,"c":2185.1},{"i":555,"o":2185.6,"h":2187.3,"l":2172,"c":2174.6},{"i":556,"o":2174.7,"h":2178.5,"l":2167.7,"c":2172.9},{"i":557,"o":2173.6,"h":2186.4,"l":2157.7,"c":2168},{"i":558,"o":2167.7,"h":2181.8,"l":2164.9,"c":2179.1},{"i":559,"o":2179.6,"h":2181.3,"l":2172,"c":2174.6},
{"i":560,"o":2175.3,"h":2176.7,"l":2159.3,"c":2169.1},{"i":561,"o":2168.9,"h":2173.1,"l":2155,"c":2166.9},{"i":562,"o":2165.8,"h":2183.6,"l":2164,"c":2177.5},{"i":563,"o":2180.2,"h":2181.3,"l":2174,"c":2177.5},{"i":564,"o":2179.1,"h":2186.4,"l":2172.7,"c":2184},{"i":565,"o":2185.1,"h":2186.4,"l":2178,"c":2184},{"i":566,"o":2184,"h":2189.1,"l":2175.8,"c":2176.9},{"i":567,"o":2176.9,"h":2177.5,"l":2119.6,"c":2122.3},{"i":568,"o":2121.4,"h":2162.2,"l":2107,"c":2158.2},{"i":569,"o":2155.7,"h":2157.3,"l":2119,"c":2128.3},
{"i":570,"o":2131.2,"h":2141.3,"l":2119,"c":2119.7},{"i":571,"o":2121.4,"h":2151.3,"l":2114.7,"c":2144.8},{"i":572,"o":2143.2,"h":2146.8,"l":2135.4,"c":2139.2},{"i":573,"o":2131.7,"h":2146.6,"l":2127.7,"c":2132.8},{"i":574,"o":2133.4,"h":2143.5,"l":2129,"c":2130.6},{"i":575,"o":2129.5,"h":2157.3,"l":2126.5,"c":2155.7},{"i":576,"o":2155.7,"h":2172.6,"l":2152.8,"c":2167.7},{"i":577,"o":2167.7,"h":2169.5,"l":2157.7,"c":2157.7},{"i":578,"o":2155.7,"h":2159.1,"l":2136.8,"c":2139.2},{"i":579,"o":2138.6,"h":2153.5,"l":2132.6,"c":2152.4},
{"i":580,"o":2151.9,"h":2165,"l":2144,"c":2162.8},{"i":581,"o":2161.7,"h":2166.8,"l":2136.8,"c":2147.9},{"i":582,"o":2145.3,"h":2167.7,"l":2135.9,"c":2159.9},{"i":583,"o":2158.4,"h":2164,"l":2150,"c":2153},{"i":584,"o":2153.5,"h":2159.5,"l":2135.9,"c":2144.1},{"i":585,"o":2143.5,"h":2157.7,"l":2140,"c":2153},{"i":586,"o":2153,"h":2156.8,"l":2143,"c":2156.2},{"i":587,"o":2155.1,"h":2161.3,"l":2137.7,"c":2145.7},{"i":588,"o":2151.9,"h":2163.1,"l":2145,"c":2158.4},{"i":589,"o":2158.9,"h":2160.9,"l":2121.7,"c":2133.9},
{"i":590,"o":2132.8,"h":2140.4,"l":2125.9,"c":2131},{"i":591,"o":2127.4,"h":2132.3,"l":2107.6,"c":2125.6},{"i":592,"o":2125.6,"h":2142.8,"l":2122.3,"c":2126.8},{"i":593,"o":2125.7,"h":2129.5,"l":2116.8,"c":2122.3},{"i":594,"o":2121.7,"h":2139.5,"l":2119.9,"c":2131.7},{"i":595,"o":2131.2,"h":2142.3,"l":2126.5,"c":2137.7},{"i":596,"o":2137.2,"h":2144.6,"l":2126.8,"c":2136.4},{"i":597,"o":2135.5,"h":2139.5,"l":2123.2,"c":2134.3},{"i":598,"o":2136.6,"h":2148.6,"l":2135,"c":2143.7},{"i":599,"o":2144.2,"h":2149.1,"l":2137,"c":2137.5},
{"i":600,"o":2135,"h":2143.2,"l":2132,"c":2133.4},{"i":601,"o":2133.4,"h":2143.2,"l":2122.3,"c":2122.8},{"i":602,"o":2126.8,"h":2135,"l":2112.3,"c":2123.4},{"i":603,"o":2119.7,"h":2130.5,"l":2114.5,"c":2119.9},{"i":604,"o":2123,"h":2129,"l":2090.9,"c":2103.2},{"i":605,"o":2101.8,"h":2106.3,"l":2082.4,"c":2091.8},{"i":606,"o":2087.6,"h":2098.7,"l":2080,"c":2083.3},{"i":607,"o":2083.8,"h":2093.8,"l":2078.7,"c":2079.3},{"i":608,"o":2105.4,"h":2130.8,"l":2102.7,"c":2128.5},{"i":609,"o":2128.5,"h":2142.8,"l":2119,"c":2135},
{"i":610,"o":2137.7,"h":2166.8,"l":2028.8,"c":2160},{"i":611,"o":2159,"h":2180.4,"l":2147.7,"c":2167.1},{"i":612,"o":2164.4,"h":2170.4,"l":2148.2,"c":2161.1},{"i":613,"o":2164.4,"h":2174.4,"l":2152,"c":2159.9},{"i":614,"o":2160.4,"h":2179.8,"l":2158.6,"c":2179.1},{"i":615,"o":2178.5,"h":2179.5,"l":2168.6,"c":2172.4},{"i":616,"o":2171.8,"h":2185.3,"l":2171,"c":2184},{"i":617,"o":2183.4,"h":2187.6,"l":2176.7,"c":2180},{"i":618,"o":2178.7,"h":2194.9,"l":2178,"c":2192.7},{"i":619,"o":2192.5,"h":2202.7,"l":2192,"c":2199.8},
{"i":620,"o":2200.9,"h":2203,"l":2192.2,"c":2200.1},{"i":621,"o":2198.5,"h":2207,"l":2197.6,"c":2205.2},{"i":622,"o":2200.9,"h":2212.1,"l":2200,"c":2211.2},{"i":623,"o":2208,"h":2209.4,"l":2198,"c":2200.1},{"i":624,"o":2199.6,"h":2209.4,"l":2197,"c":2203.6},{"i":625,"o":2203,"h":2213.6,"l":2197,"c":2198.5},{"i":626,"o":2199.2,"h":2202.7,"l":2185.8,"c":2191.6},{"i":627,"o":2190,"h":2197.1,"l":2184.4,"c":2191.6},{"i":628,"o":2183.4,"h":2208.5,"l":2178.9,"c":2204.1},{"i":629,"o":2204.7,"h":2212.1,"l":2200.3,"c":2209.6},
{"i":630,"o":2211.2,"h":2241.2,"l":2207,"c":2236.3},{"i":631,"o":2236.3,"h":2251.1,"l":2233,"c":2247.7},{"i":632,"o":2246.6,"h":2261.5,"l":2245.3,"c":2259.7},{"i":633,"o":2260.8,"h":2270.2,"l":2253,"c":2255.9},{"i":634,"o":2255.9,"h":2278.4,"l":2255,"c":2273.3},{"i":635,"o":2273.3,"h":2276.7,"l":2248,"c":2257},{"i":636,"o":2255.9,"h":2272.9,"l":2254,"c":2263.5},{"i":637,"o":2264,"h":2269.8,"l":2263,"c":2268.4},{"i":638,"o":2255.9,"h":2264.8,"l":2253.9,"c":2259.7},{"i":639,"o":2260.2,"h":2269.8,"l":2259.5,"c":2266.2},
{"i":640,"o":2266.8,"h":2267.8,"l":2258,"c":2260.2},{"i":641,"o":2258.6,"h":2260,"l":2252,"c":2257.9},{"i":642,"o":2257.5,"h":2260.8,"l":2254.6,"c":2259.7},{"i":643,"o":2259.3,"h":2261,"l":2257.5,"c":2258.6},{"i":644,"o":2258.6,"h":2269.6,"l":2254,"c":2260.8},{"i":645,"o":2255.5,"h":2267.3,"l":2244.1,"c":2244.5},{"i":646,"o":2244.8,"h":2250,"l":2239,"c":2244.6},{"i":647,"o":2245.8,"h":2252.4,"l":2231.8,"c":2235.3},{"i":648,"o":2240.7,"h":2244,"l":2239.5,"c":2242.5},{"i":649,"o":2240,"h":2252.7,"l":2239.1,"c":2251.8},
{"i":650,"o":2252.2,"h":2266.7,"l":2250.9,"c":2263.8},{"i":651,"o":2264,"h":2266.7,"l":2253.6,"c":2263.6},{"i":652,"o":2263.8,"h":2276.4,"l":2258.2,"c":2270.9},{"i":653,"o":2270.9,"h":2275.1,"l":2263,"c":2264.2},{"i":654,"o":2263.8,"h":2273.6,"l":2260,"c":2263.1},{"i":655,"o":2263.3,"h":2271.8,"l":2254.5,"c":2269.8},{"i":656,"o":2269.8,"h":2271.8,"l":2248.5,"c":2263.3},{"i":657,"o":2263.8,"h":2273.3,"l":2262.4,"c":2272},{"i":658,"o":2268.2,"h":2270,"l":2262,"c":2266},{"i":659,"o":2269.8,"h":2270.5,"l":2256.9,"c":2262},
{"i":660,"o":2261.3,"h":2266,"l":2258.2,"c":2266},{"i":661,"o":2264.9,"h":2269.5,"l":2252.7,"c":2260.9},{"i":662,"o":2260.2,"h":2272.7,"l":2259.5,"c":2265.5},{"i":663,"o":2265.5,"h":2267.3,"l":2251.5,"c":2261.5},{"i":664,"o":2260.5,"h":2280.5,"l":2259.5,"c":2274.2},{"i":665,"o":2275.3,"h":2295,"l":2274,"c":2293.8},{"i":666,"o":2293.8,"h":2299,"l":2289,"c":2293},{"i":667,"o":2293.8,"h":2294.5,"l":2287,"c":2288.2},{"i":668,"o":2281.8,"h":2285.3,"l":2263,"c":2275.8},{"i":669,"o":2275.3,"h":2278.2,"l":2262,"c":2274},
{"i":670,"o":2276.4,"h":2284.5,"l":2273,"c":2274.2},{"i":671,"o":2275.1,"h":2279,"l":2264.2,"c":2275.5},{"i":672,"o":2273.6,"h":2294,"l":2270.4,"c":2290.5},{"i":673,"o":2292.7,"h":2293.6,"l":2283.3,"c":2286.2},{"i":674,"o":2285.6,"h":2294.5,"l":2283,"c":2288.4},{"i":675,"o":2285,"h":2295.5,"l":2280.9,"c":2290},{"i":676,"o":2290,"h":2307.5,"l":2287.8,"c":2303.6},{"i":677,"o":2303.5,"h":2315.8,"l":2302.5,"c":2312.4},{"i":678,"o":2314.5,"h":2328.7,"l":2314,"c":2325.75}
]},"encoding":{"x":{"field":"i","type":"quantitative","scale":{"domain":[-0.28,683.3],"nice":false,"zero":false,"padding":0},"axis":{"title":null,"tickCount":40,"values":[20,63,86,129,151,193,215,258,281,324,346,389,430,452,495,517,539,561,583,626,648,670],"labelExpr":"{'20':'Aug','63':'Oct','86':'Nov','129':'2015','151':'Feb','193':'Apr','215':'May','258':'Jul','281':'Aug','324':'Oct','346':'Nov','389':'2016','430':'Mar','452':'Apr','495':'Jun','517':'Jul','539':'2','561':'Sep','583':'Oct','626':'Dec','648':'2017','670':'Feb'}[datum.value]","grid":true,"gridColor":"#f2f2f2","gridWidth":1,"domainColor":"#555555","domainWidth":1.3,"tickColor":"#555555","tickSize":3,"labelColor":"#666666","labelFont":"Liberation Sans","labelFontSize":11,"labelPadding":4,"labelFlush":false,"labelOverlap":false,"labelFontWeight":{"condition":{"test":"datum.value==129||datum.value==389||datum.value==648","value":"bold"},"value":"normal"}}}},"layer":[
{"data":{"name":"candles"},"mark":{"type":"rule","color":"#666666","strokeWidth":1},"encoding":{"y":{"field":"l","type":"quantitative","scale":{"domain":[1770.5,2391.4],"nice":false,"zero":false},"axis":{"title":null,"orient":"right","tickCount":40,"values":[1780,1800,1820,1840,1860,1880,1900,1920,1940,1960,1980,2000,2020,2040,2060,2080,2100,2120,2140,2160,2180,2200,2220,2240,2260,2280,2300,2320,2340,2360,2380],"format":".2f","grid":true,"gridColor":"#f2f2f2","gridWidth":1,"domainColor":"#555555","domainWidth":1.3,"tickColor":"#555555","tickSize":4,"labelColor":"#666666","labelFont":"Liberation Sans","labelFontSize":11,"labelPadding":2.5,"labelFlush":false,"labelOverlap":false}},"y2":{"field":"h"}}},
{"data":{"values":[{"a":-0.28,"b":683.3,"p":2325.75}]},"mark":{"type":"rule","color":"#00c000","strokeWidth":1,"strokeDash":[2,1.5]},"encoding":{"x":{"field":"a","type":"quantitative"},"x2":{"field":"b"},"y":{"field":"p","type":"quantitative"}}},
{"data":{"name":"candles"},"mark":{"type":"bar","width":2,"strokeWidth":1},"encoding":{"y":{"field":"o","type":"quantitative"},"y2":{"field":"c"},"fill":{"condition":{"test":"datum.c>=datum.o","value":"#00dc00"},"value":"#ff0000"},"stroke":{"condition":{"test":"datum.c>=datum.o","value":"#22683a"},"value":"#701818"}}},
{"data":{"values":[{"a":683.3,"b":697.8,"p":2329.9,"q":2321.2}]},"mark":{"type":"rect","color":"#00dd00"},"encoding":{"x":{"field":"a","type":"quantitative"},"x2":{"field":"b"},"y":{"field":"p","type":"quantitative"},"y2":{"field":"q"}}},
{"data":{"values":[{"a":685.3,"p":2325.75,"t":"2325.75"}]},"mark":{"type":"text","align":"left","baseline":"middle","font":"Liberation Sans","fontSize":11,"color":"#111111"},"encoding":{"x":{"field":"a","type":"quantitative"},"y":{"field":"p","type":"quantitative"},"text":{"field":"t"}}},
{"data":{"values":[{"a":646,"p":2259.6}]},"mark":{"type":"point","filled":true,"shape":"circle","size":201,"color":"#1e90ff","opacity":1},"encoding":{"x":{"field":"a","type":"quantitative"},"y":{"field":"p","type":"quantitative"}}},
{"data":{"values":[{"a":646,"p":2259.6,"t":"P"}]},"mark":{"type":"text","align":"center","baseline":"middle","font":"Liberation Sans","fontSize":11,"fontWeight":"bold","color":"#ffffff"},"encoding":{"x":{"field":"a","type":"quantitative"},"y":{"field":"p","type":"quantitative"},"text":{"field":"t"}}},
{"data":{"values":[{"a":4.2,"p":1776.5,"t":"Investing"}]},"mark":{"type":"text","align":"left","baseline":"alphabetic","font":"Liberation Sans","fontSize":20.5,"fontWeight":"bold","color":"#000000"},"encoding":{"x":{"field":"a","type":"quantitative"},"y":{"field":"p","type":"quantitative"},"text":{"field":"t"}}},
{"data":{"values":[{"a":29.6,"p":1776.5,"t":".com"}]},"mark":{"type":"text","align":"left","baseline":"alphabetic","font":"Liberation Sans","fontSize":13.5,"color":"#333333"},"encoding":{"x":{"field":"a","type":"quantitative"},"y":{"field":"p","type":"quantitative"},"text":{"field":"t"}}},
{"data":{"values":[{"a":21.4,"p":1784.6}]},"mark":{"type":"point","filled":true,"shape":"circle","size":12,"color":"#f7a11a","opacity":1},"encoding":{"x":{"field":"a","type":"quantitative"},"y":{"field":"p","type":"quantitative"}}},
{"data":{"values":[{"a":-0.28,"b":697.8,"p":2391.4,"q":1759.1}]},"mark":{"type":"rect","fill":null,"fillOpacity":0,"stroke":"#000000","strokeWidth":1},"encoding":{"x":{"field":"a","type":"quantitative"},"x2":{"field":"b"},"y":{"field":"p","type":"quantitative"},"y2":{"field":"q"}}}
]}
